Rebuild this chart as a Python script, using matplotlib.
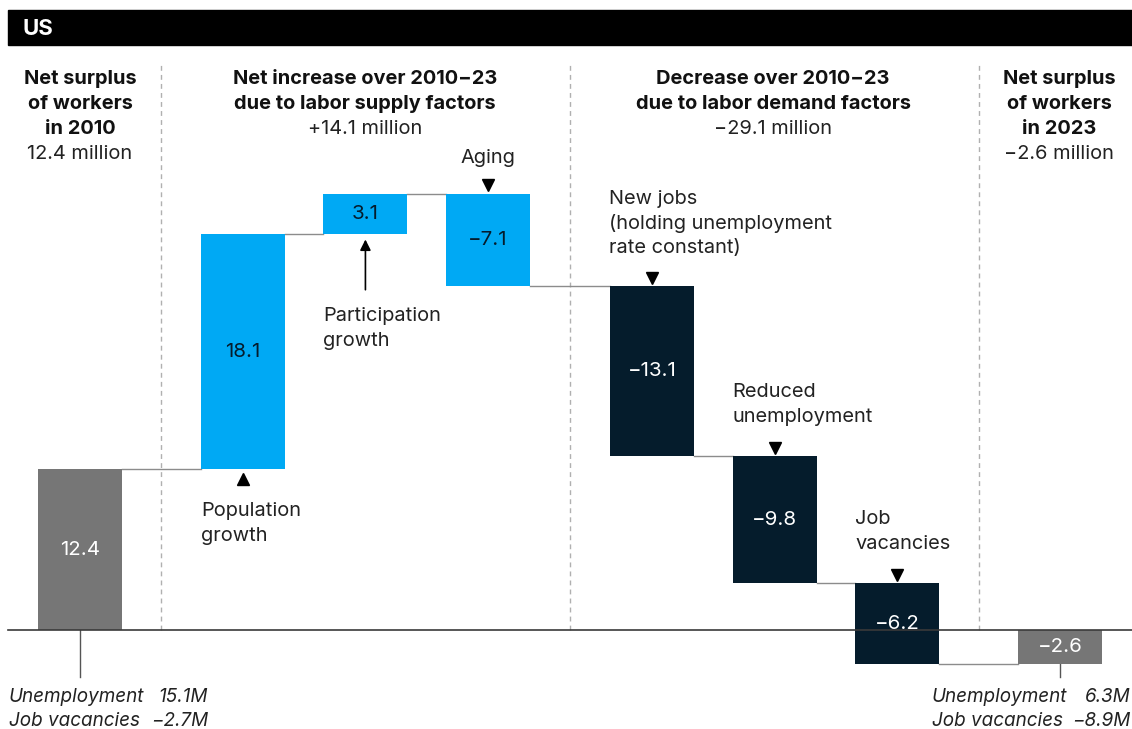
import matplotlib
matplotlib.use("Agg")
import matplotlib.pyplot as plt
from matplotlib.transforms import Affine2D
from matplotlib.patches import Rectangle

# ---- data (millions of workers) ----
steps = ["Net surplus 2010", "Population growth", "Participation growth", "Aging",
         "New jobs", "Reduced unemployment", "Job vacancies", "Net surplus 2023"]
values = [12.4, 18.1, 3.1, -7.1, -13.1, -9.8, -6.2, -2.6]
kinds = ["total", "supply", "supply", "supply", "demand", "demand", "demand", "total"]
value_labels = ["12.4", "18.1", "3.1", "\u22127.1", "\u221213.1", "\u22129.8", "\u22126.2", "\u22122.6"]
positions = [0, 1.33, 2.33, 3.33, 4.67, 5.67, 6.67, 8.0]

group_titles = [["Net surplus", "of workers", "in 2010"],
                ["Net increase over 2010\u221223", "due to labor supply factors"],
                ["Decrease over 2010\u221223", "due to labor demand factors"],
                ["Net surplus", "of workers", "in 2023"]]
group_totals = ["12.4 million", "+14.1 million", "\u221229.1 million", "\u22122.6 million"]

start_breakdown = [("Unemployment", "15.1M"), ("Job vacancies", "\u22122.7M")]
end_breakdown = [("Unemployment", "6.3M"), ("Job vacancies", "\u22128.9M")]

colors = {"total": "#767676", "supply": "#00a9f4", "demand": "#051c2c"}
text_colors = {"total": "white", "supply": "#051c2c", "demand": "white"}

W, H = 1132, 729
FS = 14.4
plt.rcParams["font.family"] = ["Inter", "DejaVu Sans"]
fig = plt.figure(figsize=(W / 100, H / 100), dpi=100)
ax = fig.add_axes([0, 0, 1, 1])
ax.set_xlim(-80 / 122.5, (W - 80) / 122.5)
ax.set_ylim(-(H - 630) / 12.98, 630 / 12.98)
ax.axis("off")

# pixel transform, origin top-left
px = Affine2D().scale(1 / W, -1 / H).translate(0, 1) + fig.transFigure

# ---- waterfall geometry ----
bottoms, tops, levels = [], [], []
running = 0.0
for v, k in zip(values, kinds):
    if k == "total":
        b, t = min(0, v), max(0, v)
        running = v
    else:
        b, t = min(running, running + v), max(running, running + v)
        running += v
    bottoms.append(b)
    tops.append(t)
    levels.append(running)

width = 0.686
ax.bar(positions, [t - b for t, b in zip(tops, bottoms)], bottom=bottoms, width=width,
       color=[colors[k] for k in kinds], zorder=3)

# connectors between bars
for i in range(len(values) - 1):
    ax.plot([positions[i] + width / 2, positions[i + 1] - width / 2], [levels[i], levels[i]],
            color="#8c8c8c", lw=1, zorder=2)

# value labels inside bars
for x, b, t, lab, k in zip(positions, bottoms, tops, value_labels, kinds):
    ax.text(x, (b + t) / 2, lab, ha="center", va="center", fontsize=14.8,
            color=text_colors[k], zorder=5)

# zero line
ax.plot([8, W], [630, 630], color="#3a3a3a", lw=1.2, transform=px, zorder=4)

# header band
fig.patches.append(Rectangle((8, 10), W - 8, 35, transform=px, color="black"))
fig.text(22, 29, "US", transform=px, color="white", fontsize=16, fontweight="bold",
         ha="left", va="center")

# dashed separators
for i in (0, 3, 6):
    xm = (positions[i] + positions[i + 1]) / 2
    ax.plot([xm, xm], [0, (630 - 63) / 12.98], color="#b0b0b0", lw=1,
            ls=(0, (3.5, 3)), zorder=1)

# group headers
centers = [80, 365, 773, 1059]
for cx, lines, tot in zip(centers, group_titles, group_totals):
    y = 79
    for ln in lines:
        fig.text(cx, y, ln, transform=px, ha="center", va="center", fontsize=FS,
                 fontweight="bold", color="#111")
        y += 25
    fig.text(cx, y, tot, transform=px, ha="center", va="center", fontsize=FS, color="#222")

# step annotations
ann_kw = dict(fontsize=FS, color="#222", va="center")
ax.plot(positions[1], bottoms[1] - 0.8, marker="^", color="black", ms=9, zorder=5)
fig.text(201, 511, "Population", transform=px, ha="left", **ann_kw)
fig.text(201, 536, "growth", transform=px, ha="left", **ann_kw)

ax.annotate("", xy=(positions[2], bottoms[2] - 0.2), xytext=(positions[2], bottoms[2] - 4.5),
            arrowprops=dict(arrowstyle="-|>", color="black", lw=1.2, mutation_scale=16), zorder=5)
fig.text(323, 316, "Participation", transform=px, ha="left", **ann_kw)
fig.text(323, 341, "growth", transform=px, ha="left", **ann_kw)

ax.plot(positions[3], tops[3] + 0.65, marker="v", color="black", ms=9, zorder=5)
fig.text(488, 158, "Aging", transform=px, ha="center", **ann_kw)

ax.plot(positions[4], tops[4] + 0.65, marker="v", color="black", ms=9, zorder=5)
for j, ln in enumerate(["New jobs", "(holding unemployment", "rate constant)"]):
    fig.text(609, 199 + 24.5 * j, ln, transform=px, ha="left", **ann_kw)

ax.plot(positions[5], tops[5] + 0.65, marker="v", color="black", ms=9, zorder=5)
for j, ln in enumerate(["Reduced", "unemployment"]):
    fig.text(732, 392 + 25 * j, ln, transform=px, ha="left", **ann_kw)

ax.plot(positions[6], tops[6] + 0.65, marker="v", color="black", ms=9, zorder=5)
for j, ln in enumerate(["Job", "vacancies"]):
    fig.text(855, 519 + 25 * j, ln, transform=px, ha="left", **ann_kw)

# breakdown stems and footnotes
ax.plot([positions[0], positions[0]], [0, -47 / 12.98], color="#555", lw=1, zorder=2)
ax.plot([positions[7], positions[7]], [bottoms[7], bottoms[7] - 13 / 12.98], color="#555", lw=1, zorder=2)

foot_kw = dict(fontsize=13.6, style="italic", color="#222", va="center")
for j, (lab, val) in enumerate(start_breakdown):
    y = 697 + 24 * j
    fig.text(9, y, lab, transform=px, ha="left", **foot_kw)
    fig.text(208, y, val, transform=px, ha="right", **foot_kw)
for j, (lab, val) in enumerate(end_breakdown):
    y = 697 + 24 * j
    fig.text(932, y, lab, transform=px, ha="left", **foot_kw)
    fig.text(1130, y, val, transform=px, ha="right", **foot_kw)

fig.savefig("out.png", dpi=100)
